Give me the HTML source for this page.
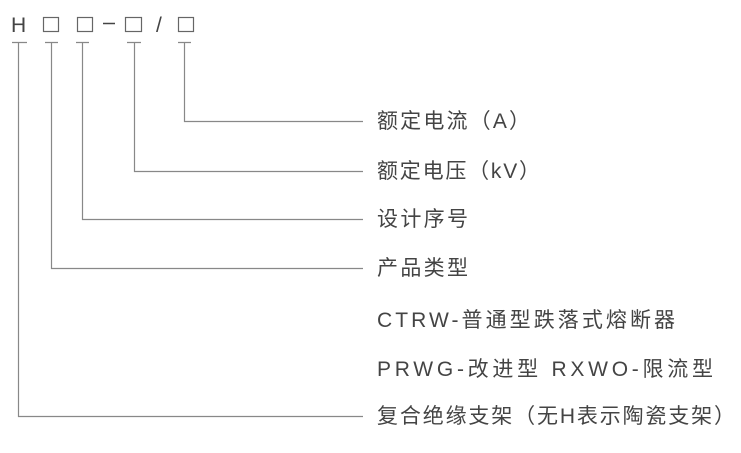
<!DOCTYPE html>
<html><head><meta charset="utf-8"><style>
body{margin:0;background:#fff;width:741px;height:448px;overflow:hidden}
</style></head><body>
<svg width="741" height="448" xmlns="http://www.w3.org/2000/svg" style="font-family:'Liberation Sans','Noto Sans CJK SC',sans-serif">
<g fill="#444" font-size="21">
<text x="11" y="32">H</text>
<text x="156" y="32">/</text>
</g>
<path d="M103 23.5H115" stroke="#444" stroke-width="1.5"/>
<g fill="none" stroke="#666" stroke-width="1.2">
<rect x="43.5" y="17.5" width="15" height="14"/>
<rect x="77.5" y="17.5" width="15" height="14"/>
<rect x="125.5" y="17.5" width="16" height="14"/>
<rect x="178.5" y="17.5" width="15" height="14"/>
</g>
<g fill="none" stroke="#888" stroke-width="1.2">
<path d="M12 42.5H27M18.5 42V416.5H363"/>
<path d="M45 42.5H58M51.5 42V268.5H363"/>
<path d="M76 42.5H89M82.5 42V219.5H363"/>
<path d="M127 42.5H141M134.5 42V171.5H363"/>
<path d="M178 42.5H191M184.5 42V121.5H363"/>
</g>
<g fill="#444" font-size="21">
<text x="377" y="128" textLength="153" lengthAdjust="spacing">额定电流（A）</text>
<text x="377" y="178" textLength="163" lengthAdjust="spacing">额定电压（kV）</text>
<text x="377" y="226" textLength="91" lengthAdjust="spacing">设计序号</text>
<text x="377" y="275" textLength="91" lengthAdjust="spacing">产品类型</text>
<text x="377" y="327" textLength="298" lengthAdjust="spacing">CTRW-普通型跌落式熔断器</text>
<text x="377" y="376" textLength="336" lengthAdjust="spacing">PRWG-改进型 RXWO-限流型</text>
<text x="377" y="423" textLength="358" lengthAdjust="spacing">复合绝缘支架（无H表示陶瓷支架）</text>
</g>
</svg>
</body></html>
